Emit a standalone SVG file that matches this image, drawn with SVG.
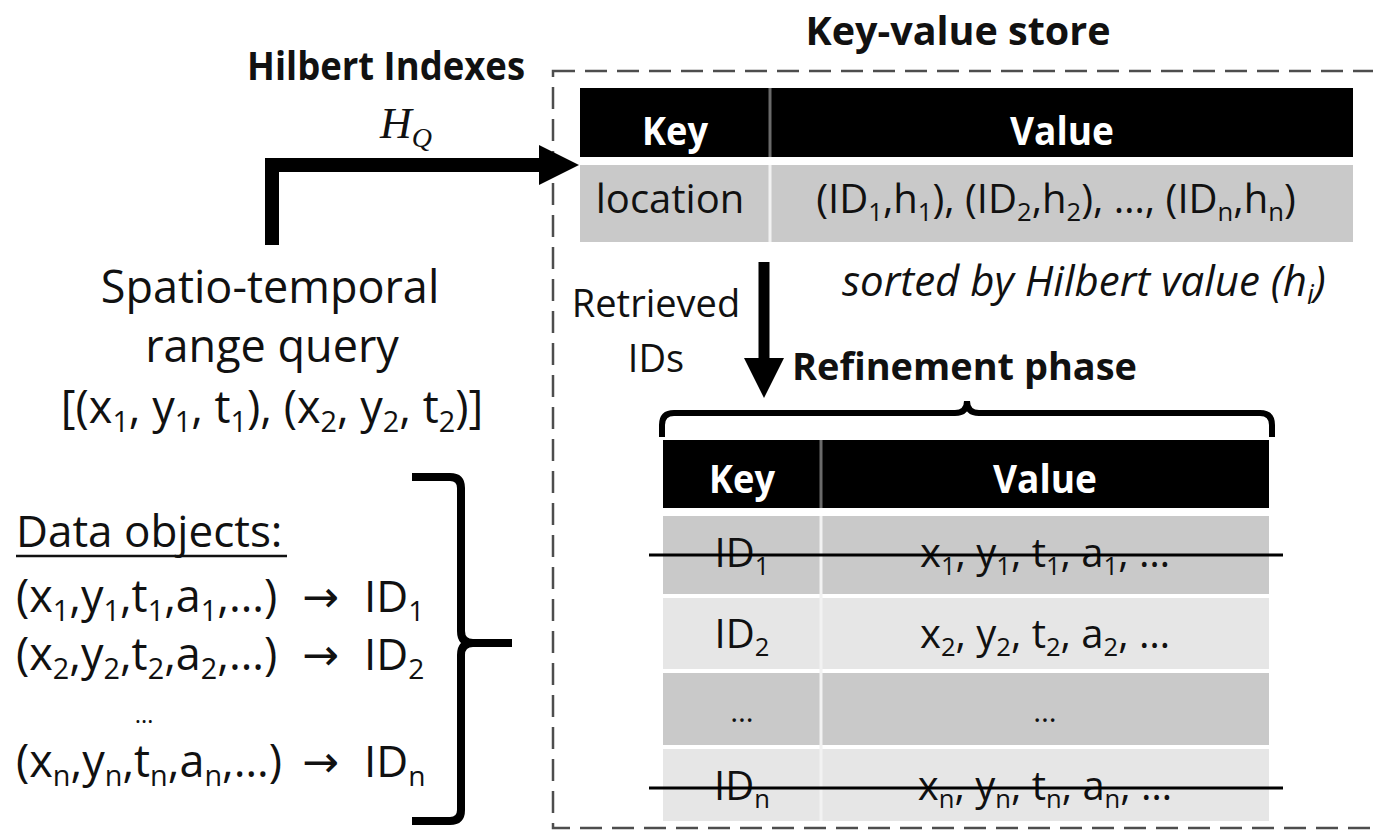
<svg xmlns="http://www.w3.org/2000/svg" width="1373" height="836" viewBox="0 0 1373 836">
  <style>
    .t{font-family:"Open Sans","Liberation Sans",sans-serif;fill:#111}
    .b{font-weight:bold}
    .i{font-style:italic}
    .w{fill:#fff}
    .s{font-size:64%}
    .hd{fill:#000}
    .r1{fill:#c9c9c9}
    .r2{fill:#e6e6e6}
    .sep{stroke:#f2f2f2;stroke-width:3}
    .hsep{stroke:#6a6a6a;stroke-width:3}
    .strike{stroke:#000;stroke-width:3}
    .thick{fill:none;stroke:#000}
  </style>
  <defs>
    <marker id="head" viewBox="0 0 40 40" markerWidth="40" markerHeight="40" refX="1" refY="20" orient="auto" markerUnits="userSpaceOnUse">
      <path d="M0,0 L40,20 L0,40 Z" fill="#000"/>
    </marker>
  </defs>
  <rect width="1373" height="836" fill="#fff"/>

  <!-- key-value store boundary -->
  <g id="store">
    <rect x="553" y="71" width="830" height="757" fill="none" stroke="#4d4d4d" stroke-width="2.5" stroke-dasharray="22 10"/>
    <text class="t b" x="958" y="45" font-size="40" text-anchor="middle" textLength="305" lengthAdjust="spacingAndGlyphs">Key-value store</text>
  </g>

  <g id="hilbert-label">
    <text class="t b" x="386" y="80" font-size="40" text-anchor="middle" textLength="278" lengthAdjust="spacingAndGlyphs">Hilbert Indexes</text>
    <text x="380" y="138" font-family="Liberation Serif, serif" font-style="italic" font-size="44" fill="#111">H<tspan font-size="28" dy="9">Q</tspan></text>
  </g>

  <!-- index table -->
  <g id="index-table">
    <rect class="hd" x="580" y="88" width="773" height="69"/>
    <line class="hsep" x1="770" y1="88" x2="770" y2="157"/>
    <rect class="r1" x="580" y="165" width="773" height="77"/>
    <line class="sep" x1="770" y1="165" x2="770" y2="242"/>
    <text class="t b w" x="675" y="145" font-size="40" text-anchor="middle" textLength="66" lengthAdjust="spacingAndGlyphs">Key</text>
    <text class="t b w" x="1062" y="145" font-size="40" text-anchor="middle" textLength="104" lengthAdjust="spacingAndGlyphs">Value</text>
    <text class="t" x="670" y="213" font-size="40" text-anchor="middle">location</text>
    <text class="t" x="1056" y="213" font-size="40" text-anchor="middle">(ID<tspan class="s" dy="8">1</tspan><tspan dy="-8">,h</tspan><tspan class="s" dy="8">1</tspan><tspan dy="-8">), (ID</tspan><tspan class="s" dy="8">2</tspan><tspan dy="-8">,h</tspan><tspan class="s" dy="8">2</tspan><tspan dy="-8">), …, (ID</tspan><tspan class="s" dy="8">n</tspan><tspan dy="-8">,h</tspan><tspan class="s" dy="8">n</tspan><tspan dy="-8">)</tspan></text>
  </g>

  <g id="sorted-note">
    <text class="t i" x="842" y="296" font-size="42">sorted by Hilbert value (h<tspan class="s" dy="8">i</tspan><tspan dy="-8">)</tspan></text>
  </g>

  <g id="retrieved-label">
    <text class="t" x="656" y="317" font-size="38" text-anchor="middle">Retrieved</text>
    <text class="t" x="656" y="372" font-size="38" text-anchor="middle">IDs</text>
  </g>

  <g id="refinement-label">
    <text class="t b" x="792" y="380" font-size="38" textLength="345" lengthAdjust="spacingAndGlyphs">Refinement phase</text>
    <path class="thick" stroke-width="6" d="M662,437 L662,425 Q662,413 674,413 L955,413 Q967,413 967,401 Q967,413 979,413 L1260,413 Q1272,413 1272,425 L1272,437"/>
  </g>

  <!-- object table -->
  <g id="object-table">
    <rect class="hd" x="663" y="440" width="606" height="68"/>
    <line class="hsep" x1="821" y1="440" x2="821" y2="508"/>
    <rect class="r1" x="663" y="516" width="606" height="78"/>
    <rect class="r2" x="663" y="598" width="606" height="71"/>
    <rect class="r1" x="663" y="673" width="606" height="72"/>
    <rect class="r2" x="663" y="749" width="606" height="72"/>
    <line class="sep" x1="821" y1="516" x2="821" y2="821"/>
    <text class="t b w" x="742" y="493" font-size="40" text-anchor="middle" textLength="66" lengthAdjust="spacingAndGlyphs">Key</text>
    <text class="t b w" x="1045" y="493" font-size="40" text-anchor="middle" textLength="104" lengthAdjust="spacingAndGlyphs">Value</text>

    <text class="t" x="742" y="567" font-size="40" text-anchor="middle">ID<tspan class="s" dy="8">1</tspan></text>
    <text class="t" x="1045" y="567" font-size="40" text-anchor="middle">x<tspan class="s" dy="8">1</tspan><tspan dy="-8">, y</tspan><tspan class="s" dy="8">1</tspan><tspan dy="-8">, t</tspan><tspan class="s" dy="8">1</tspan><tspan dy="-8">, a</tspan><tspan class="s" dy="8">1</tspan><tspan dy="-8">, …</tspan></text>

    <text class="t" x="742" y="648" font-size="40" text-anchor="middle">ID<tspan class="s" dy="8">2</tspan></text>
    <text class="t" x="1045" y="648" font-size="40" text-anchor="middle">x<tspan class="s" dy="8">2</tspan><tspan dy="-8">, y</tspan><tspan class="s" dy="8">2</tspan><tspan dy="-8">, t</tspan><tspan class="s" dy="8">2</tspan><tspan dy="-8">, a</tspan><tspan class="s" dy="8">2</tspan><tspan dy="-8">, …</tspan></text>

    <text class="t" x="742" y="722" font-size="30" text-anchor="middle">…</text>
    <text class="t" x="1045" y="722" font-size="30" text-anchor="middle">…</text>

    <text class="t" x="742" y="800" font-size="40" text-anchor="middle">ID<tspan class="s" dy="8">n</tspan></text>
    <text class="t" x="1045" y="800" font-size="40" text-anchor="middle">x<tspan class="s" dy="8">n</tspan><tspan dy="-8">, y</tspan><tspan class="s" dy="8">n</tspan><tspan dy="-8">, t</tspan><tspan class="s" dy="8">n</tspan><tspan dy="-8">, a</tspan><tspan class="s" dy="8">n</tspan><tspan dy="-8">, …</tspan></text>

    <line class="strike" x1="649" y1="555" x2="1283" y2="555"/>
    <line class="strike" x1="649" y1="788" x2="1283" y2="788"/>
  </g>

  <!-- query -->
  <g id="query">
    <text class="t" x="270" y="303" font-size="45" text-anchor="middle">Spatio-temporal</text>
    <text class="t" x="272" y="362" font-size="45" text-anchor="middle">range query</text>
    <text class="t" x="272" y="423" font-size="45" text-anchor="middle">[(x<tspan class="s" dy="9">1</tspan><tspan dy="-9">, y</tspan><tspan class="s" dy="9">1</tspan><tspan dy="-9">, t</tspan><tspan class="s" dy="9">1</tspan><tspan dy="-9">), (x</tspan><tspan class="s" dy="9">2</tspan><tspan dy="-9">, y</tspan><tspan class="s" dy="9">2</tspan><tspan dy="-9">, t</tspan><tspan class="s" dy="9">2</tspan><tspan dy="-9">)]</tspan></text>
  </g>

  <!-- data objects -->
  <g id="data-objects">
    <text class="t" x="16" y="547" font-size="44">Data objects:</text>
    <line x1="16" y1="556" x2="287" y2="556" stroke="#111" stroke-width="2.5"/>
    <text class="t" x="16" y="612" font-size="45">(x<tspan class="s" dy="9">1</tspan><tspan dy="-9">,y</tspan><tspan class="s" dy="9">1</tspan><tspan dy="-9">,t</tspan><tspan class="s" dy="9">1</tspan><tspan dy="-9">,a</tspan><tspan class="s" dy="9">1</tspan><tspan dy="-9">,…)</tspan></text>
    <text x="302" y="612" font-family="DejaVu Sans, sans-serif" font-size="44" fill="#111">→</text>
    <text class="t" x="364" y="612" font-size="44">ID<tspan class="s" dy="9">1</tspan></text>
    <text class="t" x="16" y="670" font-size="45">(x<tspan class="s" dy="9">2</tspan><tspan dy="-9">,y</tspan><tspan class="s" dy="9">2</tspan><tspan dy="-9">,t</tspan><tspan class="s" dy="9">2</tspan><tspan dy="-9">,a</tspan><tspan class="s" dy="9">2</tspan><tspan dy="-9">,…)</tspan></text>
    <text x="302" y="670" font-family="DejaVu Sans, sans-serif" font-size="44" fill="#111">→</text>
    <text class="t" x="364" y="670" font-size="44">ID<tspan class="s" dy="9">2</tspan></text>
    <text class="t" x="144" y="723" font-size="24" text-anchor="middle">…</text>
    <text class="t" x="16" y="777" font-size="45">(x<tspan class="s" dy="9">n</tspan><tspan dy="-9">,y</tspan><tspan class="s" dy="9">n</tspan><tspan dy="-9">,t</tspan><tspan class="s" dy="9">n</tspan><tspan dy="-9">,a</tspan><tspan class="s" dy="9">n</tspan><tspan dy="-9">,…)</tspan></text>
    <text x="302" y="777" font-family="DejaVu Sans, sans-serif" font-size="44" fill="#111">→</text>
    <text class="t" x="364" y="777" font-size="44">ID<tspan class="s" dy="9">n</tspan></text>
    <path class="thick" stroke-width="8" d="M412,477 L450,477 Q461,477 461,488 L461,631 Q461,643 473,643 Q461,643 461,655 L461,810 Q461,821 450,821 L412,821 M470,643 L512,643"/>
  </g>

  <!-- connectors -->
  <g id="connectors">
    <path class="thick" stroke-width="14" stroke-linejoin="miter" d="M272,245 L272,165 L540,165" marker-end="url(#head)"/>
    <path class="thick" stroke-width="11" d="M764,262 L764,359" marker-end="url(#head)"/>
  </g>
</svg>
